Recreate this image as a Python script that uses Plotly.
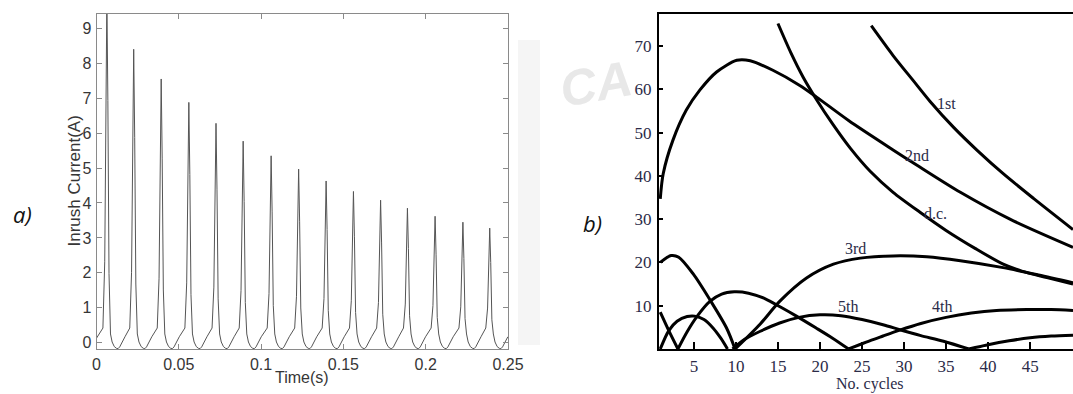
import plotly.graph_objects as go

# ---------------- panel a) : inrush current waveform ----------------
peak_times = [0.0063, 0.0226, 0.0393, 0.0561, 0.0726, 0.0891, 0.1061, 0.1228,
              0.1395, 0.1561, 0.1726, 0.1889, 0.2057, 0.2226, 0.2389]
peak_values = [9.9, 8.40, 7.55, 6.88, 6.28, 5.77, 5.35, 4.97,
               4.63, 4.33, 4.08, 3.85, 3.62, 3.45, 3.28]
start_value = 0.13
# shape of one cycle (offset from the spike, level, share of the peak)
cycle_offsets = [-0.0024, -0.0013, -0.0006, 0.0, 0.0006, 0.0013, 0.0022,
                 0.0032, 0.0045, 0.0058, 0.0068, 0.0078, 0.0110]
cycle_levels = [0.42, 0.42, 0.42, 0.0, 0.0, 0.0, 0.25,
                0.02, -0.11, -0.16, -0.17, -0.12, 0.17]
cycle_peak_share = [0, 0.2, 0.7, 1.0, 0.7, 0.2, 0, 0, 0, 0, 0, 0, 0]

a_xticks = [0, 0.05, 0.1, 0.15, 0.2, 0.25]
a_xticklabels = ["0", "0.05", "0.1", "0.15", "0.2", "0.25"]
a_yticks = [0, 1, 2, 3, 4, 5, 6, 7, 8, 9]

# ---------------- panel b) : harmonic content vs cycles ----------------
first_x = [26.1, 28.7, 31.1, 33.1, 35.9, 38.7, 41.8, 45.4, 50.1]
first_y = [74.7, 67.8, 62.0, 57.2, 51.2, 45.9, 40.5, 34.8, 27.6]

second_x = [1.0, 1.35, 2.5, 4.1, 5.7, 7.7, 10.1, 11.7, 14.4, 17.6, 19.6, 23.4,
            28.7, 31.5, 36.7, 42.6, 50.1]
second_y = [34.7, 40.5, 48.2, 55.2, 59.8, 64.0, 66.7, 66.6, 64.4, 60.9, 58.2, 52.8,
            46.0, 42.5, 36.2, 30.0, 23.5]

dc_x = [15.0, 16.5, 18.0, 19.6, 21.5, 23.6, 26.0, 28.7, 31.9, 35.0, 38.5, 41.8, 44.0, 47.0, 50.1]
dc_y = [75.2, 68.6, 62.8, 57.6, 52.0, 46.4, 41.0, 36.2, 31.6, 27.4, 23.2, 19.6, 18.0, 16.5, 15.0]

third_x = [1.0, 2.3, 3.2, 4.9, 6.9, 8.9, 9.9,
           12.9, 15.2, 18.4, 21.6, 24.8, 28.7, 32.7, 36.7, 41.8, 46.0, 50.1]
third_y = [20.0, 21.6, 21.2, 17.4, 11.4, 4.8, 0.0,
           5.8, 11.0, 16.4, 19.6, 21.0, 21.5, 21.3, 20.4, 18.8, 17.1, 15.3]

fourth_x = [1.0, 2.0, 3.1,
            4.2, 5.4, 6.9, 8.3, 9.8, 11.5, 13.5, 15.3, 17.2, 19.5, 21.5, 23.4,
            25.5, 27.5, 29.4, 32.0, 35.0, 38.0, 41.0, 44.6, 47.5, 50.1]
fourth_y = [8.5, 4.3, 0.0,
            4.0, 7.6, 11.0, 12.7, 13.2, 12.9, 11.6, 9.7, 7.6, 4.9, 2.5, 0.0,
            1.6, 3.0, 4.3, 5.9, 7.3, 8.3, 8.9, 9.1, 9.1, 8.9]

fifth_x = [1.0, 2.0, 3.0, 4.2, 5.1, 6.2, 7.3, 8.2, 9.0,
           9.6, 11.0, 12.9, 15.2, 17.5, 20.0, 22.5, 25.0, 27.5, 29.6, 32.0, 34.7, 37.7,
           40.0, 42.5, 45.0, 47.5, 50.1]
fifth_y = [0.0, 4.2, 6.4, 7.5, 7.6, 6.8, 4.8, 2.5, 0.0,
           0.0, 2.2, 4.1, 6.0, 7.3, 7.9, 7.7, 6.8, 5.6, 4.4, 3.1, 1.8, 0.0,
           1.0, 1.9, 2.6, 3.0, 3.2]

curve_labels = ["1st", "2nd", "d.c.", "3rd", "5th", "4th"]
label_x = [35.0, 31.5, 33.8, 24.2, 23.3, 34.5]
label_y = [56.7, 44.6, 31.4, 23.3, 9.8, 9.8]

b_xticks = [5, 10, 15, 20, 25, 30, 35, 40, 45]
b_yticks = [10, 20, 30, 40, 50, 60, 70]

# ---------------- build ----------------
W, H = 1073, 394
A_LEFT, A_RIGHT, TOP, BOTTOM = 96.5, 508.0, 14.0, 349.0
B_LEFT = 659.0


def xd(px):
    return px / W


def yd(py):
    return 1 - py / H


t = [0.0]
cur = [start_value]
for tp, pk in zip(peak_times, peak_values):
    for off, lev, sh in zip(cycle_offsets, cycle_levels, cycle_peak_share):
        t.append(tp + off)
        cur.append(lev * (1 - sh) + pk * sh)

fig = go.Figure()
fig.add_trace(go.Scatter(x=t, y=cur, mode="lines", xaxis="x", yaxis="y",
                         line=dict(color="#555555", width=1), hoverinfo="skip"))


def segments(xs, ys):
    segs, cx, cy = [], [], []
    for x, y in zip(xs, ys):
        if y == 0 and len(cx) > 1:
            cx.append(x); cy.append(y)
            segs.append((cx, cy))
            cx, cy = [x], [y]
        elif y == 0 and len(cx) == 1 and cy[0] == 0:
            cx, cy = [x], [y]
        else:
            cx.append(x); cy.append(y)
    if len(cx) > 1:
        segs.append((cx, cy))
    return segs


for xs, ys in [(first_x, first_y), (second_x, second_y), (dc_x, dc_y),
               (third_x, third_y), (fourth_x, fourth_y), (fifth_x, fifth_y)]:
    for sx, sy in segments(xs, ys):
        fig.add_trace(go.Scatter(x=sx, y=sy, mode="lines", xaxis="x2", yaxis="y2",
                                 line=dict(color="#000000", width=3, shape="spline",
                                           smoothing=0.8),
                                 hoverinfo="skip"))

sans = "Liberation Sans, Arial, sans-serif"
serif = "Liberation Serif, Times New Roman, serif"
ink_a = "#363636"
ink_b = "#2b2b48"


def note(text, px, py, font, angle=0):
    return dict(text=text, x=xd(px), y=yd(py), xref="paper", yref="paper",
                xanchor="center", yanchor="middle", textangle=angle,
                showarrow=False, font=font)


annotations = [
    # faint background watermark letters
    note("CA", 596, 84, dict(family=sans, size=50, color="#e8e8e8", weight="bold",
                             style="italic"), angle=-10),
]
for txt, lx, ly in zip(curve_labels, label_x, label_y):
    annotations.append(dict(text=txt, x=lx, y=ly, xref="x2", yref="y2", showarrow=False,
                            xanchor="center", yanchor="middle",
                            font=dict(family=serif, size=16, color=ink_b)))
annotations += [
    note("Time(s)", (A_LEFT + A_RIGHT) / 2, 377, dict(family=sans, size=16, color=ink_a)),
    note("Inrush Current(A)", 74, (TOP + BOTTOM) / 2,
         dict(family=sans, size=17, color=ink_a), angle=-90),
    note("No. cycles", 870, 384, dict(family=serif, size=16, color=ink_b)),
    note("a)", 22, 214, dict(family="Open Sans, sans-serif", size=22, color="#111111",
                             style="italic")),
    note("b)", 592, 223, dict(family="Open Sans, sans-serif", size=22, color="#111111",
                              style="italic")),
]

shapes = [
    dict(type="rect", xref="paper", yref="paper", x0=xd(518), x1=xd(540), y0=yd(345),
         y1=yd(40), fillcolor="#f5f5f5", line=dict(width=0), layer="below"),
]

axis_a = dict(showgrid=False, zeroline=False, showline=True, linecolor="#8a8a8a",
              linewidth=1, mirror="allticks", ticks="inside", ticklen=5,
              tickcolor="#8a8a8a", tickfont=dict(family=sans, size=16, color=ink_a))
axis_b = dict(showgrid=False, zeroline=False, showline=True, linecolor="#000000",
              linewidth=2, ticks="inside", tickcolor="#000000", tickwidth=1.5,
              tickfont=dict(family=serif, size=17, color=ink_b))

fig.update_layout(
    width=W, height=H, margin=dict(l=0, r=0, t=0, b=0),
    paper_bgcolor="white", plot_bgcolor="rgba(0,0,0,0)", showlegend=False,
    xaxis=dict(axis_a, domain=[xd(A_LEFT), xd(A_RIGHT)], range=[0, 0.25],
               tickvals=a_xticks, ticktext=a_xticklabels, anchor="y", ticklabelstandoff=1,
               automargin=False),
    yaxis=dict(axis_a, domain=[yd(BOTTOM), yd(TOP)], range=[-0.18, 9.41],
               tickvals=a_yticks, anchor="x", ticklabelstandoff=1, automargin=False),
    xaxis2=dict(axis_b, domain=[xd(B_LEFT), 1.0], range=[0.85, 50.1], tickvals=b_xticks,
                ticklen=7, mirror=True, anchor="y2", ticklabelstandoff=1, automargin=False),
    yaxis2=dict(axis_b, domain=[yd(BOTTOM), yd(TOP)], range=[0, 77.4], tickvals=b_yticks,
                ticklen=4, anchor="x2", ticklabelstandoff=2, automargin=False),
    annotations=annotations,
    shapes=shapes,
)

fig.write_html("out.html")
